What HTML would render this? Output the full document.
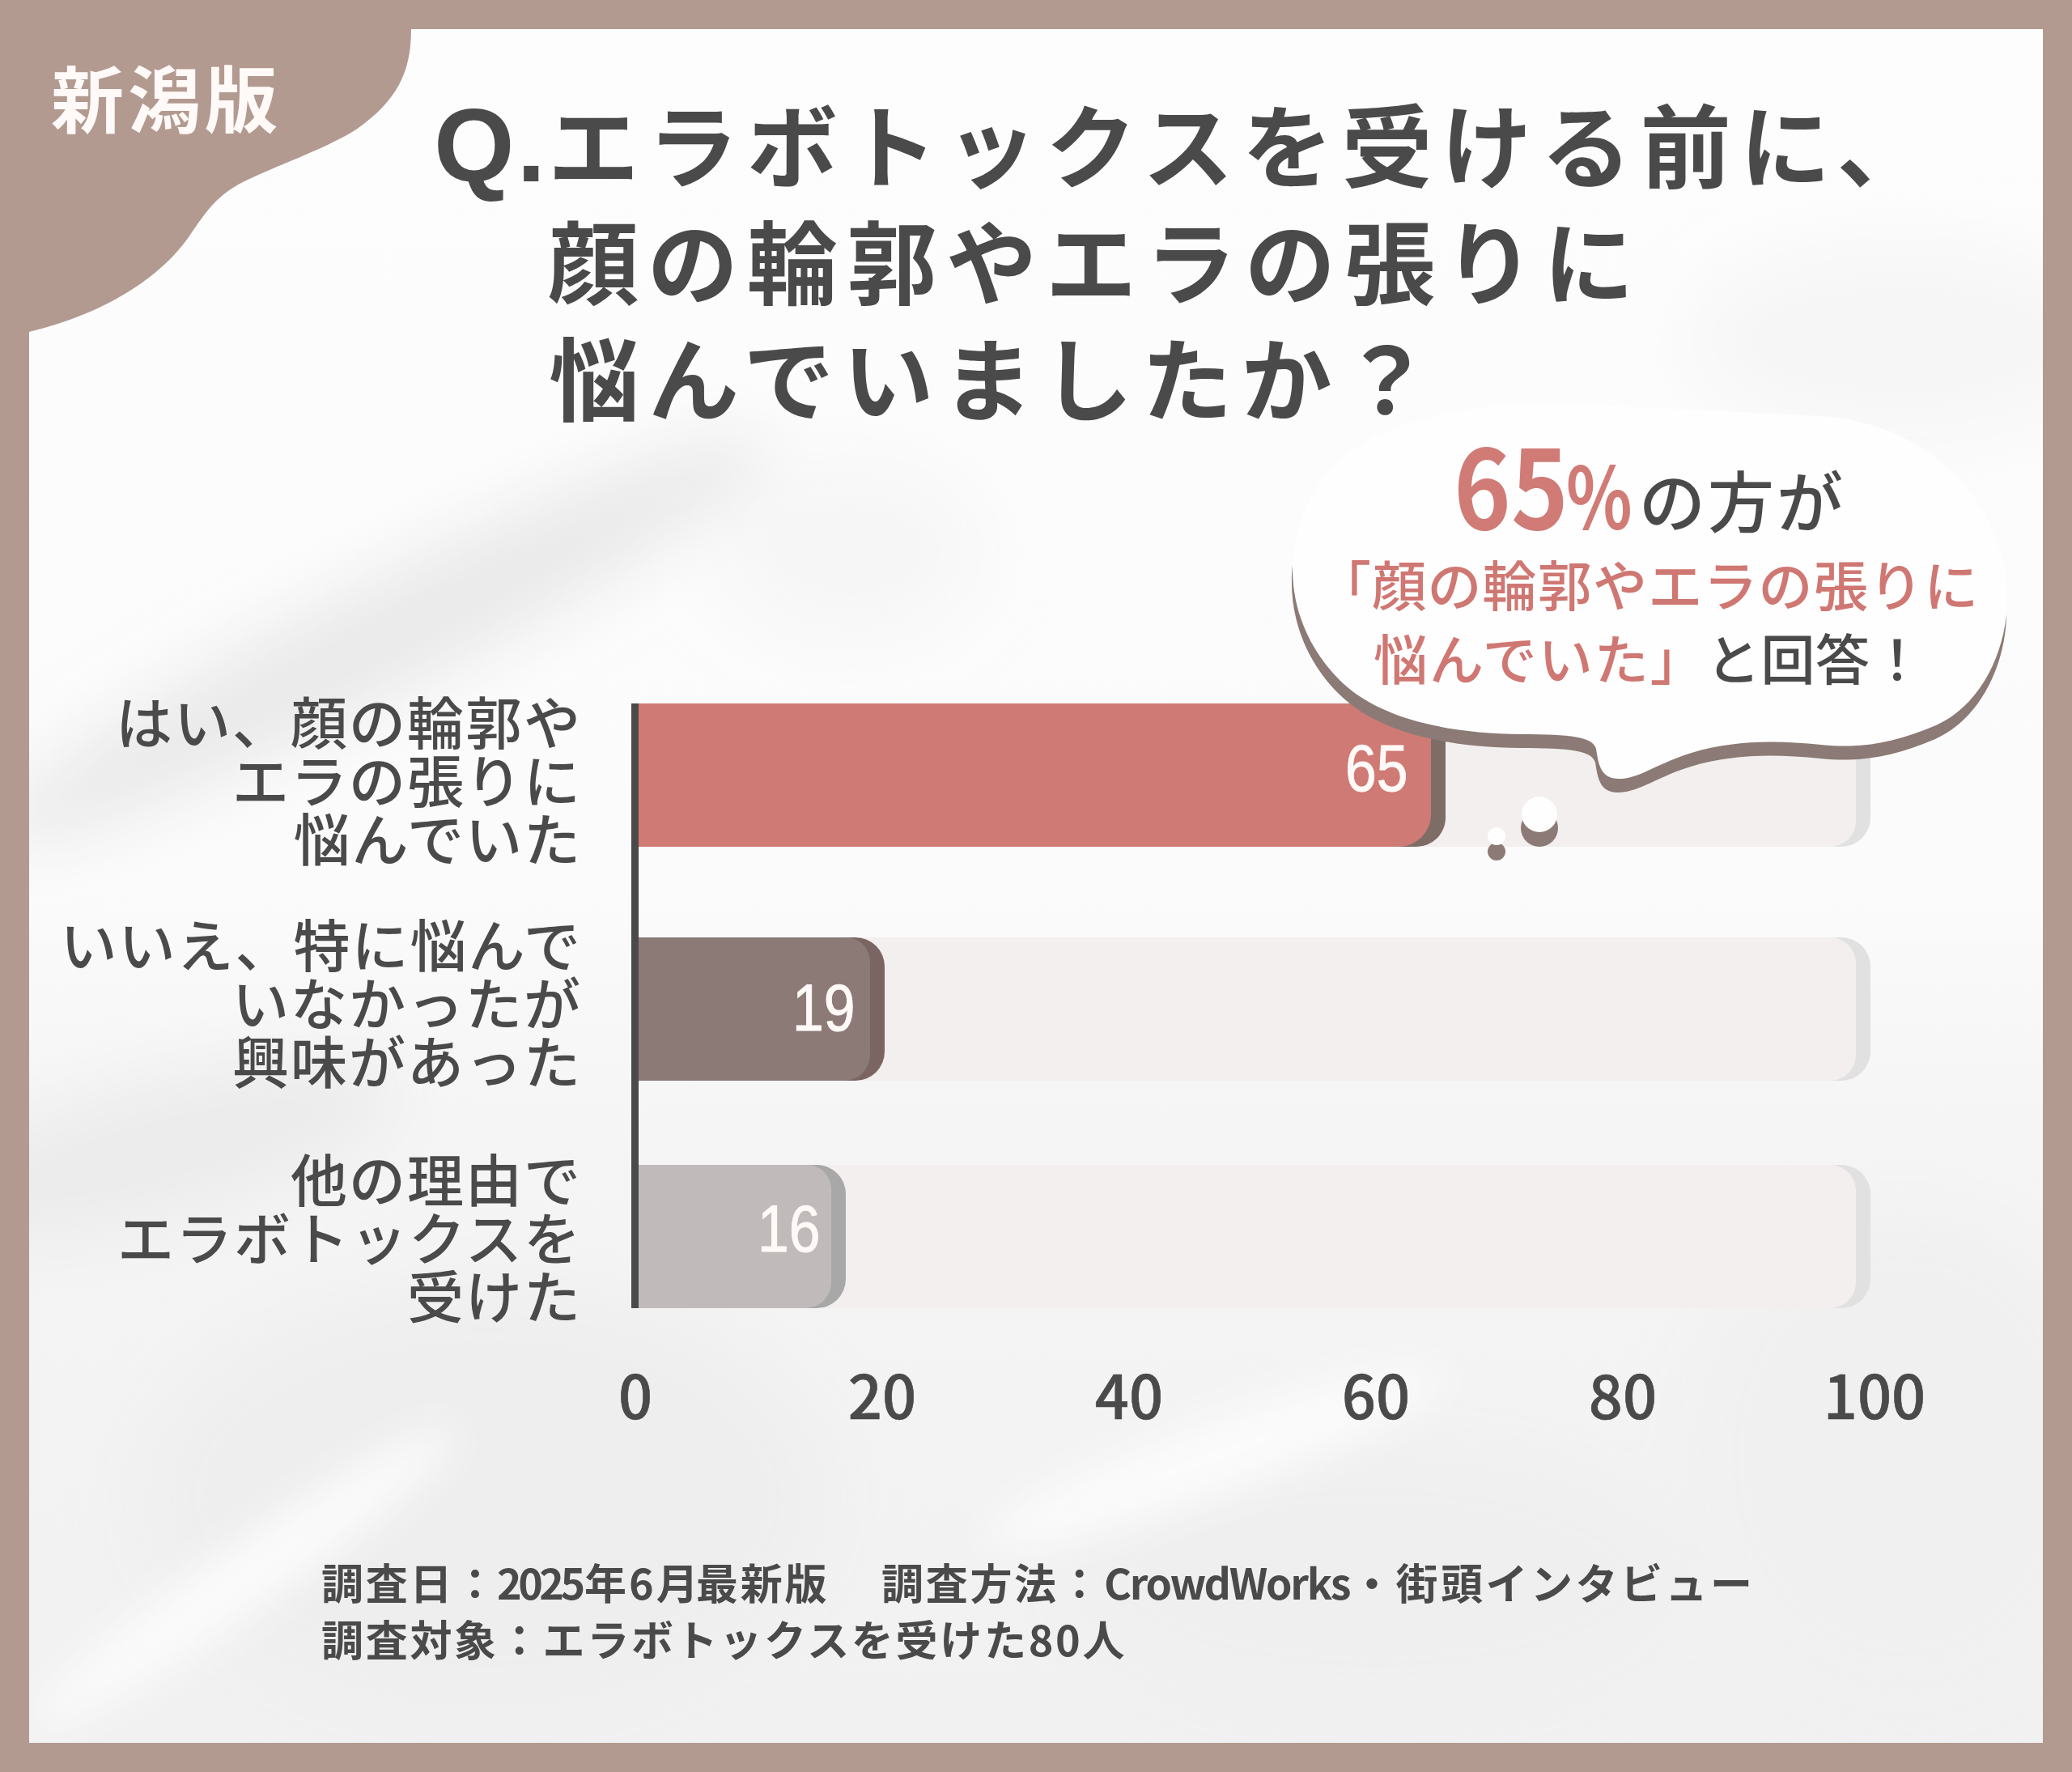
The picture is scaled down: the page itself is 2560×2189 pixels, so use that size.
<!DOCTYPE html>
<html lang="ja">
<head>
<meta charset="utf-8">
<title>エラボトックス調査</title>
<style>
html,body{margin:0;padding:0}
body{width:2560px;height:2189px;overflow:hidden;position:relative;background:#b39a91;font-family:"Liberation Sans","Noto Sans CJK JP",sans-serif;color:#4a4a4a}
.abs{position:absolute;white-space:nowrap}
#panel{position:absolute;left:36px;top:36px;width:2488px;height:2117px;background:#fafafa;overflow:hidden}
.jp{font-family:"Noto Sans CJK JP",sans-serif}
.title{left:0;font-size:112px;font-weight:700;letter-spacing:11px;line-height:144px}
.lbl{font-size:70px;font-weight:500;line-height:72px;text-align:right;right:1841px;letter-spacing:2px}
.val{font-family:"Liberation Sans",sans-serif;font-size:81px;font-weight:400;color:#fffaf8;line-height:1;transform:scaleX(0.86);transform-origin:0 0;-webkit-text-stroke:1px #fffaf8}
.tick{font-family:"Noto Sans CJK JP",sans-serif;font-size:74px;font-weight:500;-webkit-text-stroke:0.6px #4a4a4a;line-height:1;width:200px;text-align:center}
.foot{font-size:52px;font-weight:700;letter-spacing:2.7px;line-height:1}
</style>
</head>
<body>
<div id="panel"></div>
<svg class="abs" style="left:36px;top:36px" width="2488" height="2117" viewBox="36 36 2488 2117">
  <defs>
    <filter id="b40" x="-50%" y="-50%" width="200%" height="200%"><feGaussianBlur stdDeviation="40"/></filter>
    <filter id="b25" x="-50%" y="-50%" width="200%" height="200%"><feGaussianBlur stdDeviation="25"/></filter>
    <linearGradient id="pg" x1="0" y1="0" x2="0" y2="1">
      <stop offset="0" stop-color="#fdfdfd"/>
      <stop offset="0.5" stop-color="#fbfbfb"/>
      <stop offset="0.64" stop-color="#f5f5f5"/>
      <stop offset="1" stop-color="#f1f1f1"/>
    </linearGradient>
  </defs>
  <rect x="36" y="36" width="2488" height="2117" fill="url(#pg)"/>
  <g filter="url(#b40)">
    <ellipse cx="470" cy="790" rx="540" ry="70" fill="#e9e9e9" transform="rotate(-27 470 790)"/>
    <ellipse cx="1050" cy="680" rx="160" ry="110" fill="#f6f6f6"/>
    <ellipse cx="200" cy="1420" rx="300" ry="80" fill="#ebebeb" transform="rotate(-15 200 1420)"/>
    <ellipse cx="600" cy="1850" rx="420" ry="260" fill="#eeeeee"/>
    <ellipse cx="2350" cy="420" rx="260" ry="120" fill="#f6f6f6"/>
    <ellipse cx="2350" cy="1800" rx="260" ry="300" fill="#f0f0f0"/>
    <ellipse cx="1700" cy="1950" rx="380" ry="160" fill="#efefef"/>
  </g>
  <g filter="url(#b25)">
    <ellipse cx="300" cy="1950" rx="320" ry="40" fill="#fbfbfb" transform="rotate(-35 300 1950)"/>
    <ellipse cx="1500" cy="1800" rx="300" ry="45" fill="#fbfbfb" transform="rotate(-20 1500 1800)"/>
  </g>
</svg>

<!-- corner blob -->
<svg class="abs" style="left:0;top:0" width="2560" height="2189" viewBox="0 0 2560 2189">
  <path d="M0 0 H560 V36 H508 C508 90 490 125 440 160 C400 185 340 205 300 225 C270 240 255 260 235 290 C205 335 140 385 36 410 V0 Z" fill="#b39a91"/>
</svg>
<div class="abs jp" style="left:63px;top:64px;font-size:90px;font-weight:700;color:#fffaf8;letter-spacing:5px;line-height:1.2">新潟版</div>

<!-- title -->
<div class="abs jp title" style="left:536px;top:103px"><span style="font-family:&quot;Liberation Sans&quot;,sans-serif;font-size:128px;letter-spacing:3px">Q.</span>エラボトックスを受ける前に、</div>
<div class="abs jp title" style="left:677px;top:247px">顔の輪郭やエラの張りに</div>
<div class="abs jp title" style="left:678px;top:391px">悩んでいましたか？</div>

<!-- chart tracks -->
<div class="abs" style="left:789px;top:869px;width:1522px;height:177px;background:#e2e1e1;border-radius:0 36px 36px 0"></div>
<div class="abs" style="left:789px;top:869px;width:1504px;height:177px;background:#f2efee;border-radius:0 32px 32px 0"></div>
<div class="abs" style="left:789px;top:1158px;width:1522px;height:177px;background:#e2e1e1;border-radius:0 36px 36px 0"></div>
<div class="abs" style="left:789px;top:1158px;width:1504px;height:177px;background:#f2efee;border-radius:0 32px 32px 0"></div>
<div class="abs" style="left:789px;top:1439px;width:1522px;height:177px;background:#e2e1e1;border-radius:0 36px 36px 0"></div>
<div class="abs" style="left:789px;top:1439px;width:1504px;height:177px;background:#f2efee;border-radius:0 32px 32px 0"></div>

<!-- bars -->
<div class="abs" style="left:789px;top:869px;width:997px;height:177px;background:#7e6c67;border-radius:0 36px 36px 0"></div>
<div class="abs" style="left:789px;top:869px;width:979px;height:177px;background:#cf7a75;border-radius:0 30px 40px 0"></div>
<div class="abs" style="left:789px;top:1158px;width:304px;height:177px;background:#7a6563;border-radius:0 36px 36px 0"></div>
<div class="abs" style="left:789px;top:1158px;width:286px;height:177px;background:#8c7a77;border-radius:0 30px 32px 0"></div>
<div class="abs" style="left:789px;top:1439px;width:256px;height:177px;background:#a9a8a8;border-radius:0 36px 36px 0"></div>
<div class="abs" style="left:789px;top:1439px;width:238px;height:177px;background:#c0bbba;border-radius:0 30px 32px 0"></div>

<!-- axis -->
<div class="abs" style="left:780px;top:869px;width:9px;height:747px;background:#4a4a4a"></div>

<!-- values -->
<div class="abs val" style="left:1662px;top:909px">65</div>
<div class="abs val" style="left:979px;top:1205px">19</div>
<div class="abs val" style="left:936px;top:1478px">16</div>

<!-- bubble -->
<svg class="abs" style="left:0;top:0" width="2560" height="2189" viewBox="0 0 2560 2189">
  <g fill="#8b7a75">
    <path transform="translate(-1 17)" d="M1597 703 C1597 630 1640 560 1720 530 C1790 505 1870 495 1960 500 C2060 505 2170 510 2250 514 C2380 522 2480 620 2480 740 C2480 800 2450 870 2392 896 C2340 918 2300 925 2250 920 C2190 914 2140 915 2090 930 C2050 942 2025 962 2000 962 C1978 962 1975 945 1972 925 C1968 910 1940 907 1880 907 C1780 906 1700 885 1655 840 C1615 800 1597 750 1597 703 Z"/>
    <circle cx="1902" cy="1023" r="23"/>
    <circle cx="1849" cy="1052" r="11"/>
  </g>
  <g fill="#fffefe">
    <path d="M1597 703 C1597 630 1640 560 1720 530 C1790 505 1870 495 1960 500 C2060 505 2170 510 2250 514 C2380 522 2480 620 2480 740 C2480 800 2450 870 2392 896 C2340 918 2300 925 2250 920 C2190 914 2140 915 2090 930 C2050 942 2025 962 2000 962 C1978 962 1975 945 1972 925 C1968 910 1940 907 1880 907 C1780 906 1700 885 1655 840 C1615 800 1597 750 1597 703 Z"/>
    <circle cx="1902" cy="1006" r="22"/>
    <circle cx="1849" cy="1033" r="11"/>
  </g>
</svg>
<div class="abs jp" style="left:1796px;top:528px;font-size:135px;font-weight:700;color:#d07b76;line-height:1;transform:scaleX(0.89);transform-origin:0 0">65</div>
<div class="abs jp" style="left:1935px;top:555px;font-size:106px;font-weight:700;color:#d07b76;line-height:1;transform:scaleX(0.8);transform-origin:0 0">%</div>
<div class="abs jp" style="left:2025px;top:575px;font-size:82px;font-weight:500;color:#4a4a4a;line-height:1;letter-spacing:3px">の方が</div>
<div class="abs jp" style="left:1627px;top:686px;font-size:67px;font-weight:500;color:#cf7772;line-height:1;letter-spacing:1.2px">「顔の輪郭やエラの張りに</div>
<div class="abs jp" style="left:1697px;top:777px;font-size:67px;font-weight:500;color:#cf7772;line-height:1;letter-spacing:2px">悩んでいた」</div>
<div class="abs jp" style="left:2108px;top:777px;font-size:67px;font-weight:500;color:#4a4a4a;line-height:1;letter-spacing:0.5px">と回答！</div>

<!-- labels -->
<div class="abs jp lbl" style="top:854px">はい、顔の輪郭や<br>エラの張りに<br>悩んでいた</div>
<div class="abs jp lbl" style="top:1129px">いいえ、特に悩んで<br>いなかったが<br>興味があった</div>
<div class="abs jp lbl" style="top:1419px">他の理由で<br>エラボトックスを<br>受けた</div>

<!-- ticks -->
<div class="abs tick" style="left:685px;top:1684px">0</div>
<div class="abs tick" style="left:990px;top:1684px">20</div>
<div class="abs tick" style="left:1295px;top:1684px">40</div>
<div class="abs tick" style="left:1600px;top:1684px">60</div>
<div class="abs tick" style="left:1905px;top:1684px">80</div>
<div class="abs tick" style="left:2216px;top:1684px">100</div>

<!-- footnote -->
<div class="abs jp foot" style="left:397px;top:1928px">調査日：</div>
<div class="abs jp foot" style="left:614px;top:1928px;letter-spacing:-4.5px">2025</div>
<div class="abs jp foot" style="left:722px;top:1928px;letter-spacing:0">年</div>
<div class="abs jp foot" style="left:777px;top:1928px;letter-spacing:3px">6月</div>
<div class="abs jp foot" style="left:860px;top:1928px">最新版</div>
<div class="abs jp foot" style="left:1089px;top:1928px">調査方法：</div>
<div class="abs jp foot" style="left:1364px;top:1928px;letter-spacing:-2.3px">CrowdWorks</div>
<div class="abs jp foot" style="left:1669px;top:1928px;letter-spacing:3.5px">・街頭インタビュー</div>
<div class="abs jp foot" style="left:397px;top:1998px">調査対象：エラボトックスを受けた80人</div>

</body>
</html>
